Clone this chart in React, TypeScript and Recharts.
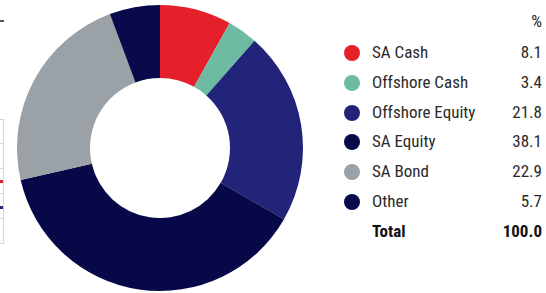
import { PieChart, Pie, Cell } from "recharts";

// ─── Data ──────────────────────────────────────────────────────────────────

const CATEGORIES = ["SA Cash", "Offshore Cash", "Offshore Equity", "SA Equity", "SA Bond", "Other"];
const VALUES = [8.1, 3.4, 21.8, 38.1, 22.9, 5.7];
const TOTAL_LABEL = "Total";
const TOTAL_VALUE = "100.0";

const COLORS = ["#e5202a", "#6dbba2", "#22247a", "#060848", "#9aa1a7", "#080a4c"];

const FONT = '"Liberation Sans Narrow", "Roboto Condensed", "Arial Narrow", Roboto, sans-serif';

// ─── Cropped table edge on the left ────────────────────────────────────────

function EdgeTable() {
  const rows = [119, 143, 168, 193, 218, 243];
  return (
    <>
      <div style={{ position: "absolute", left: 0, top: 20, width: 4, height: 2, background: "#555" }} />
      {rows.map((y) => (
        <div key={y} style={{ position: "absolute", left: 0, top: y, width: 4, height: 1, background: "#d6d6d6" }} />
      ))}
      <div style={{ position: "absolute", left: 3, top: 119, width: 1, height: 125, background: "#d6d6d6" }} />
      <div style={{ position: "absolute", left: 0, top: 180, width: 3, height: 3, background: "#e5202a" }} />
      <div style={{ position: "absolute", left: 0, top: 206, width: 3, height: 3, background: "#22247a" }} />
    </>
  );
}

// ─── Legend ────────────────────────────────────────────────────────────────

function LegendTable() {
  const rowH = 29.8;
  return (
    <div style={{ position: "absolute", left: 340, top: 0, width: 202, fontFamily: FONT, fontSize: 17, color: "#2a2a2a" }}>
      <div style={{ position: "absolute", right: 0, top: 13, lineHeight: "17px" }}>%</div>
      {CATEGORIES.map((c, i) => (
        <div key={c} style={{ position: "absolute", left: 0, right: 0, top: 43 + i * rowH, height: 19, lineHeight: "19px" }}>
          <span style={{ position: "absolute", left: 4, top: 2, width: 16, height: 16, borderRadius: "50%", background: COLORS[i] }} />
          <span style={{ position: "absolute", left: 32 }}>{c}</span>
          <span style={{ position: "absolute", right: 0 }}>{VALUES[i].toFixed(1)}</span>
        </div>
      ))}
      <div style={{ position: "absolute", left: 0, right: 0, top: 43 + 6 * rowH, height: 19, lineHeight: "19px", fontWeight: 700, color: "#111" }}>
        <span style={{ position: "absolute", left: 32 }}>{TOTAL_LABEL}</span>
        <span style={{ position: "absolute", right: 0 }}>{TOTAL_VALUE}</span>
      </div>
    </div>
  );
}

// ─── Component ────────────────────────────────────────────────────────────

export default function App() {
  const data = CATEGORIES.map((name, i) => ({ name, value: VALUES[i] }));
  return (
    <div style={{ position: "absolute", left: 0, top: 0, width: 546, height: 293, background: "#fff", overflow: "hidden" }}>
      <EdgeTable />
      <PieChart
        width={320}
        height={293}
        margin={{ top: 0, right: 0, bottom: 0, left: 0 }}
        style={{ position: "absolute", left: 0, top: 0 }}
      >
        <Pie
          data={data}
          dataKey="value"
          nameKey="name"
          cx={160}
          cy={148}
          innerRadius={70}
          outerRadius={143}
          startAngle={90}
          endAngle={-270}
          stroke="none"
          isAnimationActive={false}
        >
          {data.map((d, i) => (
            <Cell key={d.name} fill={COLORS[i]} />
          ))}
        </Pie>
      </PieChart>
      <LegendTable />
    </div>
  );
}
